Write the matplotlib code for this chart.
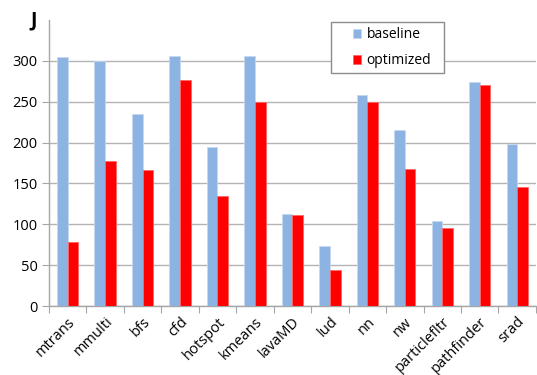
import numpy as np
import matplotlib
matplotlib.use('Agg')
from matplotlib import pyplot as plt
from matplotlib.patches import Rectangle

apps = ['mtrans', 'mmulti', 'bfs', 'cfd', 'hotspot', 'kmeans', 'lavaMD',
        'lud', 'nn', 'nw', 'particlefltr', 'pathfinder', 'srad']
baseline = [304, 300, 235, 306, 195, 306, 113, 74, 258, 215, 104, 274, 198]
optimized = [78, 177, 166, 276, 135, 250, 111, 44, 250, 167, 95, 270, 145]

plt.rcParams['font.family'] = ['Open Sans', 'DejaVu Sans']

fig = plt.figure(figsize=(5.37, 3.75), dpi=100)
ax = fig.add_axes([0.091, 0.184, 0.907, 0.763])

x = np.arange(len(apps))
w = 0.285
ax.bar(x - w / 2, baseline, w, color='#8db3e2', edgecolor='#c6d9f1', linewidth=0.6,
       label='baseline', zorder=3)
ax.bar(x + w / 2, optimized, w, color='#ff0000', edgecolor='#ff6666', linewidth=0.6,
       label='optimized', zorder=3)

ax.set_xlim(-0.5, len(apps) - 0.5)
ax.set_ylim(0, 350)
ax.set_yticks(np.arange(0, 301, 50))
ax.yaxis.grid(True, color='#b3b3b3', linewidth=1.0, zorder=0)
ax.tick_params(axis='y', length=5, color='#a6a6a6', labelsize=10.5, pad=3)

# category ticks at boundaries, labels at centers
ax.set_xticks(np.arange(-0.5, len(apps), 1.0))
ax.set_xticklabels([])
ax.set_xticks(x, minor=True)
ax.set_xticklabels(apps, minor=True, rotation=45, ha='right', va='top',
                   rotation_mode='anchor', fontsize=10.5)
ax.tick_params(axis='x', which='major', length=5, color='#a6a6a6', direction='out')
ax.tick_params(axis='x', which='minor', length=0, pad=6)

for s in ['top', 'right']:
    ax.spines[s].set_visible(False)
for s in ['left', 'bottom']:
    ax.spines[s].set_color('#a6a6a6')
    ax.spines[s].set_linewidth(1.0)

# legend box drawn separately (wider padding like the original)
box = Rectangle((0.616, 0.805), 0.211, 0.136, transform=fig.transFigure,
                facecolor='white', edgecolor='#8c8c8c', linewidth=1.0, zorder=4)
fig.patches.append(box)
leg = fig.legend(loc='upper left', bbox_to_anchor=(0.657, 0.928), fontsize=10,
                 frameon=False, handlelength=0.6, handleheight=0.6, labelspacing=0.8,
                 borderpad=0, borderaxespad=0, handletextpad=0.4)
leg.set_zorder(5)

fig.text(0.062, 0.945, 'J', fontsize=14, fontweight='bold', ha='center', va='center')

plt.savefig('out.png', dpi=100)
